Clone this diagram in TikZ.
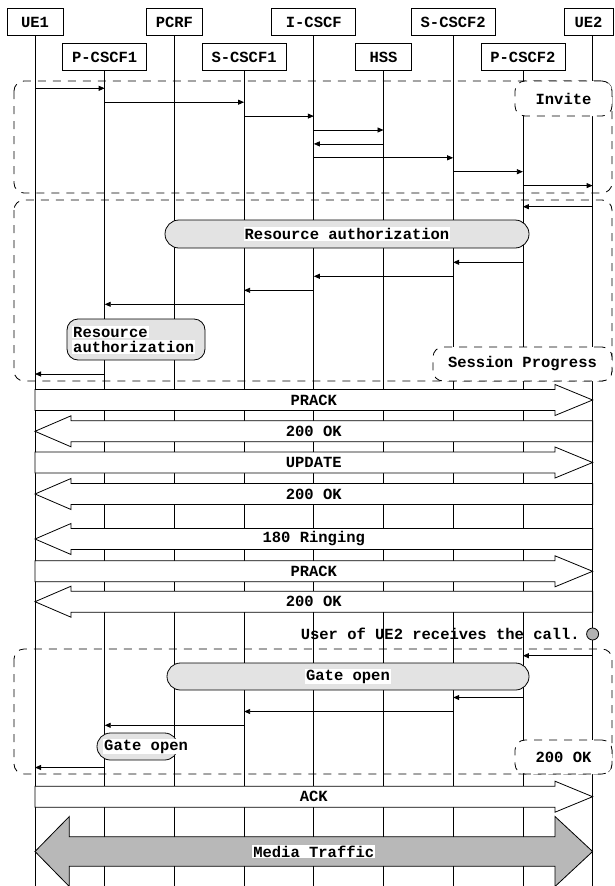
\documentclass[tikz,border=0pt]{standalone}
\usepackage{fontspec}
\newfontfamily\cour{Liberation Mono}
\usetikzlibrary{arrows.meta,calc}
\begin{document}
\begin{tikzpicture}[x=1pt,y=-1pt,
  txt/.style={font=\cour\bfseries\fontsize{15.5}{17}\selectfont, inner sep=1pt},
  ent/.style={txt, draw, line width=0.8pt, fill=white, minimum height=27.5pt, inner sep=0pt},
  life/.style={line width=0.8pt},
  msg/.style={line width=0.8pt, -{Triangle[length=6pt,width=5pt]}},
  dbox/.style={line width=0.8pt, dash pattern=on 8pt off 7pt, rounded corners=10pt},
  lbox/.style={txt, draw, line width=0.8pt, dash pattern=on 8pt off 7pt, rounded corners=10pt, fill=white, inner sep=0pt},
  pill/.style={draw, line width=0.8pt, fill=black!11},
  ptext/.style={txt, fill=white},
  blk/.style={draw, line width=0.8pt, fill=white},
  media/.style={draw, line width=0.8pt, fill=black!28}
]
\useasboundingbox (0,0) rectangle (615,886);
\fill[white] (0,0) rectangle (615,886);

% lifeline x positions
\coordinate (UE1) at (35,0);
\coordinate (PC1) at (104.7,0);
\coordinate (PCRF) at (174.4,0);
\coordinate (SC1) at (244.1,0);
\coordinate (IC) at (313.8,0);
\coordinate (HSS) at (383.5,0);
\coordinate (SC2) at (453.2,0);
\coordinate (PC2) at (522.9,0);
\coordinate (UE2) at (592.6,0);

% entities
\node[ent, minimum width=56pt] (eUE1) at (UE1 |- 0,22) {UE1};
\node[ent, minimum width=56pt] (ePCRF) at (PCRF |- 0,22) {PCRF};
\node[ent, minimum width=84pt] (eIC) at (IC |- 0,22) {I-CSCF};
\node[ent, minimum width=84pt] (eSC2) at (SC2 |- 0,22) {S-CSCF2};
\node[ent, minimum width=49pt] (eUE2) at (588.5,22) {UE2};
\node[ent, minimum width=84pt] (ePC1) at (PC1 |- 0,57) {P-CSCF1};
\node[ent, minimum width=84pt] (eSC1) at (SC1 |- 0,57) {S-CSCF1};
\node[ent, minimum width=56pt] (eHSS) at (HSS |- 0,57) {HSS};
\node[ent, minimum width=84pt] (ePC2) at (PC2 |- 0,57) {P-CSCF2};

% lifelines
\foreach \e/\l in {eUE1/UE1,ePCRF/PCRF,eIC/IC,eSC2/SC2,ePC1/PC1,eSC1/SC1,eHSS/HSS,ePC2/PC2}
  \draw[life] (\e.south) -- (\l |- 0,886);
\draw[life] (UE2 |- eUE2.south) -- (UE2 |- 0,886);

\newcommand\msgline[3]{\draw[msg] (#1 |- 0,#3) -- (#2 |- 0,#3);}

% ---- Invite block
\draw[dbox] (14,81) rectangle (612,193);
\msgline{UE1}{PC1}{88.3}
\msgline{PC1}{SC1}{102.2}
\msgline{SC1}{IC}{116.1}
\msgline{IC}{HSS}{130}
\msgline{HSS}{IC}{143.9}
\msgline{IC}{SC2}{157.8}
\msgline{SC2}{PC2}{171.7}
\msgline{PC2}{UE2}{185.6}
\node[lbox, minimum width=97pt, minimum height=35pt] (linvite) at (563.5,98.5) {Invite};

% ---- Session Progress block
\draw[dbox] (14,200) rectangle (612,381);
\msgline{UE2}{PC2}{206.7}
\draw[pill, rounded corners=14pt] (165,220) rectangle (529,248);
\node[ptext] (ra1) at (347,234) {Resource authorization};
\msgline{PC2}{SC2}{262.3}
\msgline{SC2}{IC}{276.3}
\msgline{IC}{SC1}{290.3}
\msgline{SC1}{PC1}{304.3}
\draw[pill, rounded corners=11pt] (67,319) rectangle (205,360);
\node[ptext, anchor=west] (ra2a) at (72,332) {Resource};
\node[ptext, anchor=west] (ra2b) at (72,347) {authorization};
\msgline{PC1}{UE1}{374}
\node[lbox, minimum width=179pt, minimum height=34pt] (lsp) at (522.5,364) {Session Progress};

% ---- block arrows
\newcommand\rblock[3]{%
  \draw[blk] (UE1 |- 0,#1-10.5) -- (555,#1-10.5) -- (555,#1-15.5) -- (UE2 |- 0,#1)
    -- (555,#1+15.5) -- (555,#1+10.5) -- (UE1 |- 0,#1+10.5) -- cycle;
  \node[txt] (#3) at (IC |- 0,#1) {#2};}
\newcommand\lblock[3]{%
  \draw[blk] (UE2 |- 0,#1-10.5) -- (71,#1-10.5) -- (71,#1-15.5) -- (UE1 |- 0,#1)
    -- (71,#1+15.5) -- (71,#1+10.5) -- (UE2 |- 0,#1+10.5) -- cycle;
  \node[txt] (#3) at (IC |- 0,#1) {#2};}

\rblock{400}{PRACK}{m1}
\lblock{431.3}{200 OK}{m2}
\rblock{462.5}{UPDATE}{m3}
\lblock{494}{200 OK}{m4}
\lblock{539}{180 Ringing}{m5}
\rblock{571.3}{PRACK}{m6}
\lblock{601.7}{200 OK}{m7}

% ---- user receives call
\node[circle, draw, line width=0.8pt, fill=black!30, minimum size=12pt, inner sep=0pt] (dot) at (UE2 |- 0,634) {};
\node[txt, anchor=east] (note) at (581,634) {User of UE2 receives the call.};

% ---- 200 OK block
\draw[dbox] (14,649) rectangle (612,774);
\msgline{UE2}{PC2}{655.7}
\draw[pill, rounded corners=13.5pt] (167,663) rectangle (529,690);
\node[ptext] (go1) at (348,676.5) {Gate open};
\msgline{PC2}{SC2}{697.5}
\msgline{SC2}{SC1}{711.5}
\msgline{SC1}{PC1}{725.3}
\draw[pill, rounded corners=13.5pt] (97,733) rectangle (178,760);
\node[ptext, anchor=west] (go2) at (103,746.5) {Gate open};
\msgline{PC1}{UE1}{767.5}
\node[lbox, minimum width=97pt, minimum height=34pt] (lok) at (563.5,757) {200 OK};

% ---- ACK
\rblock{796.7}{ACK}{m8}

% ---- Media traffic
\draw[media] (UE1 |- 0,851.5) -- (69.3,816.5) -- (69.3,836.8) -- (555,836.8) -- (555,816.5)
  -- (UE2 |- 0,851.5) -- (555,886.5) -- (555,866.2) -- (69.3,866.2) -- (69.3,886.5) -- cycle;
\node[txt, fill=white] (mt) at (IC |- 0,851.5) {Media Traffic};
\end{tikzpicture}
\end{document}
